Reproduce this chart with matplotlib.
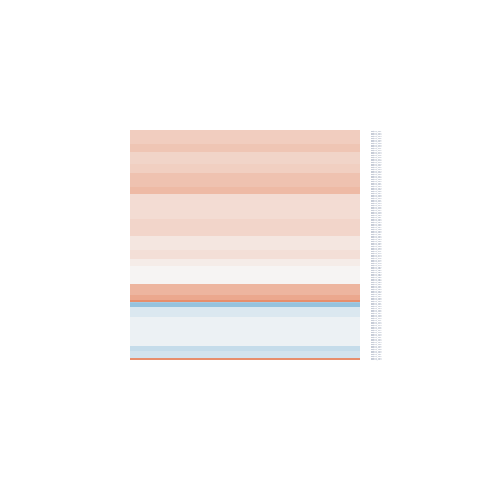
import numpy as np
import matplotlib
matplotlib.use("Agg")
import matplotlib.pyplot as plt
from matplotlib.colors import LinearSegmentedColormap

# stripe values (correlation-like) and the number of rows in each stripe
stripe_values = [0.20, 0.24, 0.165, 0.19, 0.25, 0.29, 0.13, 0.16, 0.08, 0.11, 0.05,
                 0.015, 0.32, 0.38, 0.50, -0.35, -0.40, -0.11, -0.04, -0.21, -0.15, 0.50]
stripe_rows = [8, 5, 7, 5, 8, 4, 15, 10, 8, 5, 4, 11, 6, 3, 1, 1, 2, 6, 17, 3, 4, 1]

values = []
for v, n in zip(stripe_values, stripe_rows):
    values.extend([v] * n)
values = np.array(values).reshape(-1, 1)
row_labels = [f"feature_{i+1:03d}" for i in range(len(values))]

cmap = LinearSegmentedColormap.from_list(
    "div",
    [(0.0, "#2166ac"), (0.3, "#97c4df"), (0.5, "#f7f7f7"),
     (0.75, "#e8906d"), (1.0, "#b2182b")])

fig = plt.figure(figsize=(4.8, 4.8), dpi=100)
ax = fig.add_axes([130/480, 120/480, 230/480, 230/480])
ax.imshow(values, cmap=cmap, vmin=-1, vmax=1, aspect="auto",
          interpolation="nearest")
ax.set_xticks([])
ax.yaxis.tick_right()
ax.set_yticks(np.arange(len(values)))
ax.set_yticklabels(row_labels, fontsize=1.4, color="#7d8aa3")
ax.tick_params(axis="y", length=0, pad=8)
for s in ax.spines.values():
    s.set_visible(False)
fig.savefig("out.png", dpi=100)
